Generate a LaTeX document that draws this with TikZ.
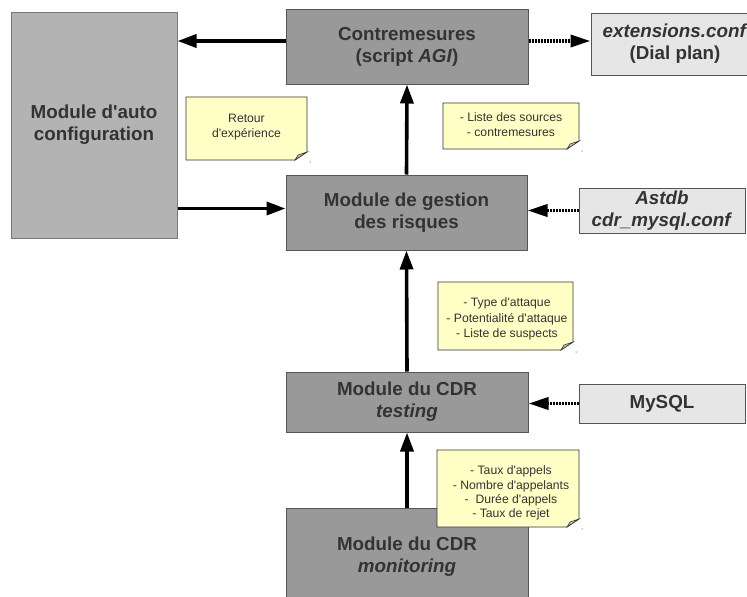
\documentclass[tikz,border=0pt]{standalone}
\usepackage{fontspec}
\setmainfont{Liberation Sans}
\newfontfamily\lib{Liberation Sans}
\usetikzlibrary{arrows.meta}
\definecolor{txtc}{HTML}{333333}
\definecolor{bordc}{HTML}{555555}
\definecolor{modfill}{HTML}{999999}
\definecolor{autofill}{HTML}{B3B3B3}
\definecolor{extfill}{HTML}{E6E6E6}
\definecolor{notey}{HTML}{FFFFC6}
\definecolor{foldc}{HTML}{C8C8A0}
\newcommand\notebox[4]{%
  \draw[notestyle] (#1,#2) -- (#3,#2) -- (#3,#4-8) -- (#3-12,#4) -- (#1,#4) -- cycle;
  \draw[foldstyle] (#3,#4-8) -- (#3-9,#4-5) -- (#3-12,#4) -- cycle;
  \fill[black] (#3+3,#4+2) circle (0.5);
}
\tikzset{
  boxbase/.style={draw=bordc, line width=1pt, text=txtc, align=center, inner sep=0pt,
    font=\lib\bfseries\fontsize{18.8}{22}\selectfont},
  module/.style={boxbase, fill=modfill},
  automod/.style={boxbase, fill=autofill, draw=bordc!80},
  extbox/.style={boxbase, fill=extfill},
  notestyle/.style={draw=txtc, line width=0.8pt, fill=notey},
  foldstyle/.style={draw=txtc, line width=0.6pt, fill=foldc},
  notetext/.style={text=txtc, align=center, inner sep=0pt, font=\lib\fontsize{12.2}{14.6}\selectfont},
  arr/.style={line width=3.6pt, -{Triangle[length=19pt,width=13pt]}},
  darr/.style={line width=3.6pt, dash pattern=on 2pt off 1pt, -{Triangle[length=20pt,width=12pt]}},
}
\begin{document}
\begin{tikzpicture}[x=1pt,y=-1pt]
\useasboundingbox (0,0) rectangle (747,597);
\begin{scope}
\clip (0,0) rectangle (747,597);
% boxes
\node[automod, minimum width=166pt, minimum height=226pt] (auto) at (94,125) {Module d'auto\\configuration};
\node[module, minimum width=242pt, minimum height=75pt] (cm) at (407,46.5) {Contremesures\\(script \textit{AGI})};
\node[extbox, minimum width=168pt, minimum height=62pt] (ext) at (675,44) {\textit{extensions.conf}\\(Dial plan)};
\node[module, minimum width=241pt, minimum height=75pt] (gest) at (406.5,212.5) {Module de gestion\\des risques};
\node[extbox, minimum width=166pt, minimum height=45pt] (astdb) at (662,210.5) {\textit{Astdb}\\\textit{cdr\_mysql.conf}};
\node[module, minimum width=242pt, minimum height=60pt] (test) at (407,402) {Module du CDR\\\textit{testing}};
\node[extbox, minimum width=166pt, minimum height=39pt] (mysql) at (662,403.5) {MySQL};
\node[module, minimum width=242pt, minimum height=97pt] (mon) at (407,556.5) {Module du CDR\\\textit{monitoring}};

% arrows
\draw[arr] ([yshift=5.5pt]cm.west) -- ([yshift=5.5pt]cm.west -| auto.east);
\draw[arr] ([yshift=4pt]gest.west -| auto.east) -- ([yshift=4pt]gest.west);
\draw[arr] (gest.north) -- (cm.south);
\draw[arr] (test.north) -- (gest.south);
\draw[arr] (mon.north) -- (test.south);
\draw[darr] ([yshift=5.5pt]cm.east) -- ([yshift=5.5pt]cm.east -| ext.west);
\draw[darr] (astdb.west) -- (astdb.west -| gest.east);
\draw[darr] (mysql.west) -- (mysql.west -| test.east);

% notes
\notebox{186}{97}{307}{160}
\node[notetext] (n1) at (246.5,127) {Retour\\d'expérience};
\notebox{443}{103}{579}{149}
\node[notetext] (n2) at (511,124.5) {- Liste des sources\\- contremesures};
\notebox{438}{282}{573}{350}
\node[notetext, font=\lib\fontsize{12.2}{15.5}\selectfont] (n3) at (507,319) {- Type d'attaque\\- Potentialité d'attaque\\- Liste de suspects};
\notebox{437}{450}{579}{527}
\node[notetext, font=\lib\fontsize{12.2}{14.2}\selectfont] (n4) at (511,493) {- Taux d'appels\\- Nombre d'appelants\\-~~Durée d'appels\\- Taux de rejet};
\end{scope}
\end{tikzpicture}
\end{document}
